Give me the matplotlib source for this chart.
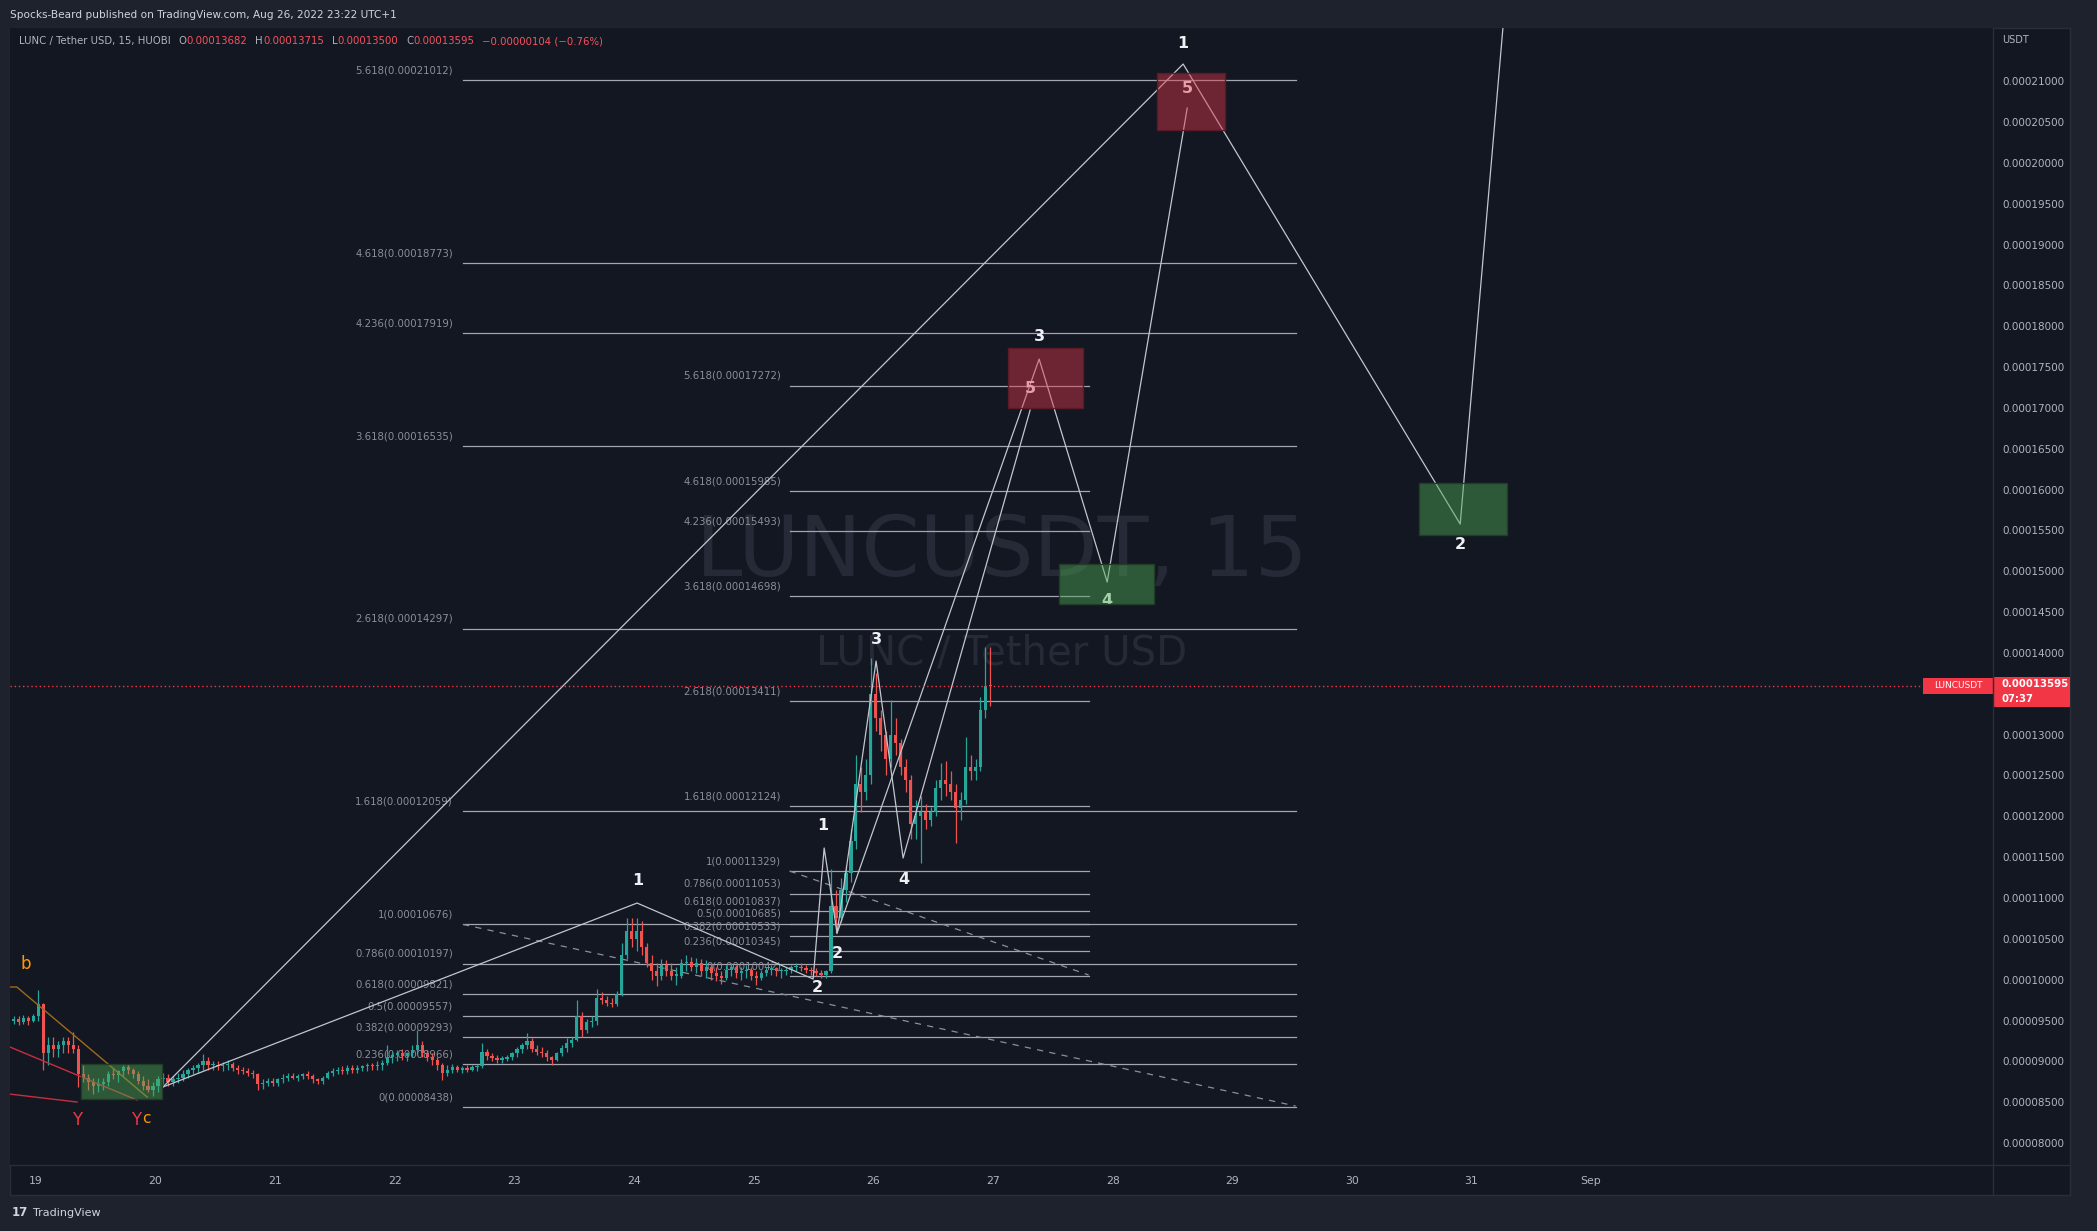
import numpy as np
import matplotlib
matplotlib.use('Agg')
import matplotlib.pyplot as plt
from matplotlib.patches import Rectangle
from matplotlib.lines import Line2D
from matplotlib.transforms import IdentityTransform

W, H = 2097, 1231
BG = '#131722'
OUTER = '#1e222d'
BORDER = '#2a2e39'
TXT = '#b2b5be'
UP = '#26a69a'
DOWN = '#ef5350'
RED = '#f7525f'
WAVE = '#c3c6ce'
FIBC = '#a3a6af'
FIBT = '#8c8f99'

# hourly candles, first one opens Aug 18 19:00; prices in units of 1e-5 USDT
start_day = 18 + 19 / 24
first_open = 9.50
close = [9.52, 9.48, 9.53, 9.50, 9.55,
         9.70, 9.10, 9.20, 9.15, 9.20, 9.25, 9.20, 9.15, 8.85, 8.80, 8.75, 8.70, 8.72, 8.75, 8.85, 8.83, 8.88, 8.93, 8.90, 8.85, 8.76, 8.70, 8.65, 8.70,
         8.78, 8.80, 8.75, 8.78, 8.80, 8.84, 8.90, 8.92, 8.95, 9.00, 8.95, 8.96, 8.94, 8.95, 8.97, 8.92, 8.90, 8.88, 8.86, 8.84, 8.72, 8.74, 8.76, 8.74,
         8.78, 8.80, 8.82, 8.80, 8.82, 8.84, 8.82, 8.78, 8.76, 8.80, 8.86, 8.88, 8.90, 8.88, 8.92, 8.90, 8.92, 8.94, 8.95, 8.94, 8.96, 8.98, 9.05, 9.08,
         9.10, 9.06, 9.10, 9.14, 9.20, 9.10, 9.05, 9.02, 8.95, 8.86, 8.90, 8.93, 8.90, 8.92, 8.90, 8.93, 8.94, 9.12, 9.06, 9.04, 9.02, 9.03, 9.05, 9.10,
         9.15, 9.20, 9.25, 9.15, 9.12, 9.10, 9.05, 9.02, 9.10, 9.16, 9.22, 9.26, 9.55, 9.38, 9.48, 9.50, 9.78, 9.75, 9.72, 9.70, 9.82, 10.30, 10.60, 10.50,
         10.60, 10.40, 10.20, 10.10, 10.05, 10.18, 10.10, 10.05, 10.05, 10.20, 10.22, 10.15, 10.20, 10.10, 10.15, 10.08, 10.05, 10.02, 10.12, 10.15, 10.08, 10.10, 10.12, 10.05,
         10.02, 10.08, 10.12, 10.14, 10.10, 10.10, 10.12, 10.15, 10.16, 10.14, 10.12, 10.10, 10.08, 10.06, 10.10, 10.90, 10.75, 11.10, 11.30, 11.70, 12.40, 12.30, 12.50, 13.50,
         13.20, 13.00, 12.70, 13.00, 12.90, 12.60, 12.45, 11.90, 12.00, 12.05, 11.95, 12.05, 12.35, 12.45, 12.40, 12.30, 12.10, 12.20, 12.60, 12.55, 12.60, 13.30, 13.60, 13.595]
high = [9.56, 9.55, 9.57, 9.56, 9.58,
        9.87, 9.72, 9.30, 9.30, 9.25, 9.30, 9.30, 9.36, 9.20, 8.95, 8.85, 8.80, 8.80, 8.80, 8.88, 8.92, 8.90, 8.96, 8.97, 8.92, 8.88, 8.82, 8.78, 8.75,
        8.82, 8.86, 8.84, 8.82, 8.86, 8.90, 8.92, 8.96, 8.98, 9.09, 9.05, 9.00, 9.00, 8.99, 9.02, 8.99, 8.95, 8.93, 8.92, 8.90, 8.86, 8.78, 8.80, 8.80,
        8.80, 8.84, 8.86, 8.86, 8.85, 8.86, 8.88, 8.84, 8.80, 8.82, 8.88, 8.92, 8.93, 8.94, 8.95, 8.96, 8.95, 8.96, 8.98, 8.98, 9.00, 9.02, 9.20, 9.12,
        9.14, 9.15, 9.12, 9.20, 9.38, 9.25, 9.14, 9.10, 9.05, 8.98, 8.95, 8.97, 8.96, 8.94, 8.95, 8.96, 8.97, 9.22, 9.15, 9.10, 9.08, 9.06, 9.08, 9.12,
        9.18, 9.22, 9.35, 9.28, 9.20, 9.18, 9.14, 9.06, 9.12, 9.20, 9.28, 9.30, 9.75, 9.60, 9.52, 9.55, 9.88, 9.85, 9.80, 9.78, 9.86, 10.45, 10.75, 10.76,
        10.75, 10.72, 10.45, 10.30, 10.20, 10.25, 10.24, 10.20, 10.15, 10.25, 10.30, 10.28, 10.26, 10.25, 10.24, 10.20, 10.16, 10.10, 10.18, 10.20, 10.18, 10.16, 10.18, 10.15,
        10.10, 10.12, 10.16, 10.18, 10.16, 10.14, 10.16, 10.18, 10.20, 10.20, 10.18, 10.16, 10.14, 10.12, 10.12, 11.36, 11.10, 11.25, 11.40, 11.85, 12.75, 12.60, 12.70, 13.94,
        13.75, 13.30, 13.05, 13.42, 13.20, 12.95, 12.70, 12.50, 12.20, 12.25, 12.15, 12.12, 12.45, 12.65, 12.68, 12.55, 12.40, 12.30, 12.97, 12.75, 12.70, 13.46, 14.07, 14.07]
low = [9.46, 9.44, 9.46, 9.45, 9.48,
       9.50, 8.90, 8.95, 9.05, 9.05, 9.10, 9.10, 9.10, 8.69, 8.75, 8.65, 8.60, 8.62, 8.65, 8.70, 8.78, 8.75, 8.82, 8.85, 8.80, 8.72, 8.65, 8.62, 8.58,
       8.62, 8.72, 8.70, 8.70, 8.74, 8.76, 8.80, 8.84, 8.86, 8.90, 8.90, 8.90, 8.90, 8.88, 8.90, 8.88, 8.85, 8.84, 8.82, 8.80, 8.65, 8.66, 8.70, 8.70,
       8.70, 8.74, 8.76, 8.78, 8.76, 8.78, 8.78, 8.74, 8.72, 8.72, 8.78, 8.82, 8.84, 8.85, 8.85, 8.86, 8.86, 8.88, 8.88, 8.90, 8.90, 8.90, 8.95, 8.98,
       9.00, 9.02, 9.00, 9.05, 9.08, 9.05, 9.00, 8.96, 8.90, 8.77, 8.82, 8.86, 8.87, 8.86, 8.87, 8.88, 8.88, 8.92, 9.02, 9.00, 8.98, 8.98, 9.00, 9.02,
       9.05, 9.10, 9.15, 9.12, 9.08, 9.05, 9.00, 8.96, 9.00, 9.06, 9.12, 9.18, 9.25, 9.30, 9.35, 9.42, 9.45, 9.70, 9.68, 9.66, 9.68, 9.80, 10.25, 10.40,
       10.35, 10.30, 10.15, 10.00, 9.92, 10.00, 10.05, 10.00, 9.93, 10.02, 10.10, 10.10, 10.08, 10.05, 10.02, 10.00, 9.98, 9.95, 10.00, 10.05, 10.02, 10.00, 10.02, 10.00,
       9.94, 10.00, 10.04, 10.06, 10.04, 10.02, 10.06, 10.08, 10.10, 10.10, 10.08, 10.06, 10.04, 10.02, 10.02, 10.08, 10.57, 10.70, 10.95, 11.20, 11.60, 12.05, 12.20, 12.40,
       13.05, 12.80, 12.50, 12.60, 12.75, 12.50, 12.30, 11.72, 11.72, 11.43, 11.85, 11.88, 12.00, 12.20, 12.25, 12.20, 11.67, 11.95, 12.15, 12.45, 12.45, 12.55, 13.20, 13.35]
last_price = 13.595

# fib extensions
fib_ratios = ['0', '0.236', '0.382', '0.5', '0.618', '0.786', '1', '1.618', '2.618', '3.618', '4.236', '4.618', '5.618']
big_fib = [8.438, 8.966, 9.293, 9.557, 9.821, 10.197, 10.676, 12.059, 14.297, 16.535, 17.919, 18.773, 21.012]
small_fib = [10.042, 10.345, 10.533, 10.685, 10.837, 11.053, 11.329, 12.124, 13.411, 14.698, 15.493, 15.985, 17.272]
big_fib_x = (22.57, 29.53)
small_fib_x = (25.30, 27.80)

# wave paths (day, price)
path_a = [(20.062, 8.686), (28.590, 21.210), (30.906, 15.578), (31.266, 21.70)]
path_b = [(20.062, 8.686), (24.025, 10.938), (25.497, 10.008), (25.589, 11.612), (25.697, 10.571),
          (26.023, 13.901), (26.249, 11.489), (27.311, 16.974)]
path_c = [(25.697, 10.571), (27.386, 17.598), (27.955, 14.868), (28.624, 20.671)]
dashed = [[(22.57, 10.676), (29.53, 8.453)], [(25.30, 11.33), (27.80, 10.057)]]
wave_labels = [('1', 28.590, 21.467), ('2', 30.906, 15.33), ('3', 27.386, 17.868), ('4', 27.955, 14.648),
               ('1', 24.033, 11.208), ('2', 25.530, 9.898), ('1', 25.580, 11.893), ('2', 25.697, 10.326),
               ('3', 26.023, 14.170), ('4', 26.258, 11.232)]
five_labels = [(27.311, 17.24), (28.624, 20.916)]

# boxes: day0, day1, p0, p1
red_boxes = [(27.13, 27.75, 17.0, 17.73), (28.37, 28.94, 20.40, 21.10)]
green_boxes = [(19.38, 20.05, 8.54, 8.97), (27.55, 28.35, 14.60, 15.09), (30.56, 31.30, 15.44, 16.08)]

x0, x1 = 18.783, 35.36
y0, y1 = 7.731, 21.651

fig = plt.figure(figsize=(W / 100, H / 100), dpi=100, facecolor=OUTER)
ident = IdentityTransform()

fig.add_artist(Rectangle((10, H - 1195), 2060, 1167, transform=ident, facecolor=BG,
                         edgecolor=BORDER, lw=1, zorder=-5))
ax = fig.add_axes([10 / W, 1 - 1165 / H, 1983 / W, 1137 / H])
ax.set_facecolor(BG)
for s in ax.spines.values():
    s.set_visible(False)
ax.set_xlim(x0, x1)
ax.set_ylim(y0, y1)

ax.yaxis.tick_right()
yt = np.arange(8, 21.01, 0.5)
ax.set_yticks(yt)
ax.set_yticklabels([f'{v * 1e-5:.8f}' for v in yt])
ax.tick_params(axis='y', length=0, pad=7, labelsize=7.5, labelcolor=TXT)
ax.set_xticks(list(range(19, 33)))
ax.set_xticklabels([str(d) for d in range(19, 32)] + ['Sep'])
ax.tick_params(axis='x', length=0, pad=8, labelsize=7.8, labelcolor=TXT)

# watermark
ax.text(1002, H - 552, 'LUNCUSDT, 15', transform=ident, fontsize=60, color='#262a36',
        ha='center', va='center', zorder=0.5)
ax.text(1002, H - 653, 'LUNC / Tether USD', transform=ident, fontsize=29, color='#262a36',
        ha='center', va='center', zorder=0.5)

# candles
c = np.array(close)
h = np.array(high)
l = np.array(low)
o = np.concatenate([[first_open], c[:-1]])
t = start_day + (np.arange(len(c)) + 0.5) / 24
col = np.where(c >= o, UP, DOWN)
ax.vlines(t, l, h, colors=col, lw=0.9, zorder=3)
ax.bar(t, np.maximum(np.abs(c - o), 0.015), bottom=np.minimum(o, c), width=0.027,
       color=col, linewidth=0, zorder=3)

# fib levels
for (xa, xb), prices, lx in [(big_fib_x, big_fib, 22.487), (small_fib_x, small_fib, 25.229)]:
    for r, p in zip(fib_ratios, prices):
        ax.plot([xa, xb], [p, p], color=FIBC, lw=0.9, zorder=2)
        ax.annotate(f'{r}({p * 1e-5:.8f})', (lx, p), xytext=(0, 7), textcoords='offset points',
                    ha='right', va='center', fontsize=7.3, color=FIBT, zorder=2)
for seg in dashed:
    ax.plot(*zip(*seg), color='#8c8f99', lw=0.9, ls=(0, (5, 5)), zorder=2)

# waves
for path in (path_a, path_b, path_c):
    ax.plot(*zip(*path), color=WAVE, lw=0.9, zorder=4)
for s, xx, yy in wave_labels:
    ax.text(xx, yy, s, color='#eef0f4', fontsize=11.5, fontweight='bold', ha='center', va='center', zorder=4)
for xx, yy in five_labels:
    ax.text(xx, yy, '5', color='#eef0f4', fontsize=11.5, fontweight='bold', ha='center', va='center', zorder=4)

# left side corrective lines and labels
ax.plot([18.783, 18.84, 19.93], [9.91, 9.91, 8.563], color='#a0691c', lw=1, zorder=4)
ax.plot([18.783, 19.845], [9.175, 8.526], color='#c62f40', lw=1, zorder=4)
ax.plot([18.783, 19.343], [8.599, 8.502], color='#c62f40', lw=1, zorder=4)
ax.text(18.917, 10.19, 'b', color='#ff9800', fontsize=12, ha='center', va='center', zorder=4)
ax.text(19.343, 8.282, 'Y', color='#f23645', fontsize=12, ha='center', va='center', zorder=4)
ax.text(19.836, 8.282, 'Y', color='#f23645', fontsize=12, ha='center', va='center', zorder=4)
ax.text(19.92, 8.30, 'c', color='#ff9800', fontsize=11, ha='center', va='center', zorder=4)

# boxes
for d0, d1, p0, p1 in red_boxes:
    ax.add_patch(Rectangle((d0, p0), d1 - d0, p1 - p0, facecolor=(0.867, 0.22, 0.29, 0.45),
                           edgecolor='#5c1a26', lw=1, zorder=5))
for d0, d1, p0, p1 in green_boxes:
    ax.add_patch(Rectangle((d0, p0), d1 - d0, p1 - p0, facecolor=(0.31, 0.667, 0.333, 0.45),
                           edgecolor='#1f3d27', lw=1, zorder=5))

# last price line
ax.axhline(last_price, color='#f23645', lw=1, ls=(0, (1, 2)), zorder=4)

# frame lines
fig.add_artist(Line2D([1993, 1993], [H - 28, H - 1195], transform=ident, color=BORDER, lw=1))
fig.add_artist(Line2D([10, 2070], [H - 1165, H - 1165], transform=ident, color=BORDER, lw=1))

# price labels on the axis
fig.add_artist(Rectangle((1993, H - 707), 77, 30, transform=ident, facecolor='#f23645', lw=0))
fig.text(2002, H - 684, f'{last_price * 1e-5:.8f}', transform=ident, color='white', fontsize=7.3,
         fontweight='bold', va='center')
fig.text(2002, H - 699, '07:37', transform=ident, color='white', fontsize=7.3, fontweight='bold', va='center')
fig.add_artist(Rectangle((1923, H - 694), 70, 16, transform=ident, facecolor='#f23645', lw=0))
fig.text(1958, H - 686, 'LUNCUSDT', transform=ident, color='white', fontsize=6.5, ha='center', va='center')
fig.text(2002, H - 40, 'USDT', transform=ident, color=TXT, fontsize=7, va='center')

# header
fig.text(10, H - 15, 'Spocks-Beard published on TradingView.com, Aug 26, 2022 23:22 UTC+1',
         transform=ident, color='#d1d4dc', fontsize=7.6, va='center')
renderer = fig.canvas.get_renderer()
parts = [('LUNC / Tether USD, 15, HUOBI', TXT, 8), ('O', TXT, 0), ('0.00013682', RED, 8),
         ('H', TXT, 0), ('0.00013715', RED, 8), ('L', TXT, 0), ('0.00013500', RED, 8),
         ('C', TXT, 0), ('0.00013595', RED, 8), ('\u22120.00000104 (\u22120.76%)', RED, 0)]
xpos = 19
for s, colr, gap in parts:
    tx = fig.text(xpos, H - 41, s, transform=ident, color=colr, fontsize=7.3, va='center')
    xpos = tx.get_window_extent(renderer).x1 + gap

# footer logo
fig.text(12, H - 1213, '17', transform=ident, color='#d1d4dc', fontsize=8.5, fontweight='bold', va='center')
fig.text(33, H - 1213, 'TradingView', transform=ident, color='#d1d4dc', fontsize=8, va='center')

fig.savefig('out.png', dpi=100, facecolor=OUTER)
